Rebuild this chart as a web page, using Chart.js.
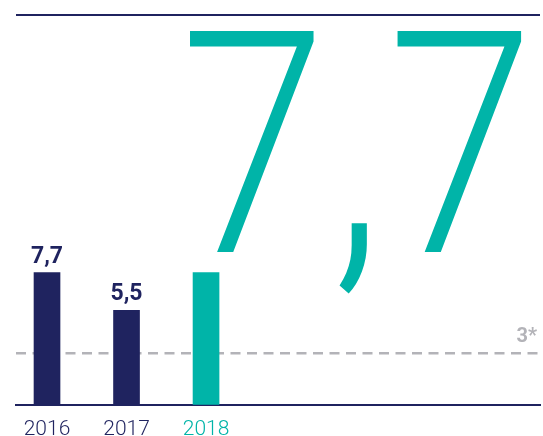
<!DOCTYPE html>
<html>
<head>
<meta charset="utf-8">
<script src="https://cdn.jsdelivr.net/npm/chart.js@4"></script>
<style>
  html, body { margin: 0; padding: 0; background: #fff; }
  #wrap { width: 543px; height: 436px; position: relative; }
</style>
</head>
<body>
<div id="wrap"><canvas id="rateChart"></canvas></div>
<script>
// data
const years = [2016, 2017, 2018];
const values = [7.7, 5.5, 7.7];
const threshold = 3;
const thresholdLabel = '3*';

const navy = '#1f235f';
const teal = '#00b4a8';
const grey = '#b3b3b8';

const fmt = v => v.toFixed(1).replace('.', ',');

// rules, reference line, value labels and the big headline number
const decorPlugin = {
    id: 'decor',
    beforeDatasetsDraw(chart) {
        const { ctx, chartArea, scales } = chart;
        const y = scales.y.getPixelForValue(threshold);
        ctx.save();
        ctx.strokeStyle = grey;
        ctx.lineWidth = 2.5;
        ctx.setLineDash([10, 6.5]);
        ctx.beginPath();
        ctx.moveTo(chartArea.left, y);
        ctx.lineTo(chartArea.right, y);
        ctx.stroke();
        ctx.setLineDash([]);
        ctx.fillStyle = grey;
        ctx.font = 'bold 20px Roboto';
        ctx.textAlign = 'right';
        ctx.textBaseline = 'alphabetic';
        ctx.fillText(thresholdLabel, chartArea.right - 3, y - 11);
        // top rule
        ctx.strokeStyle = navy;
        ctx.lineWidth = 2;
        ctx.beginPath();
        ctx.moveTo(chartArea.left, chartArea.top);
        ctx.lineTo(chartArea.right, chartArea.top);
        ctx.stroke();
        ctx.restore();
    },
    afterDatasetsDraw(chart) {
        const { ctx } = chart;
        const bars = chart.getDatasetMeta(0).data;
        ctx.save();
        ctx.fillStyle = navy;
        ctx.font = 'bold 23px Roboto';
        ctx.textAlign = 'center';
        ctx.textBaseline = 'alphabetic';
        // last year is shown as the big number instead
        for (let i = 0; i < bars.length - 1; i++) {
            ctx.fillText(fmt(values[i]), bars[i].x, bars[i].y - 10);
        }
        // big number
        ctx.fillStyle = teal;
        ctx.font = '300 311px Roboto';
        ctx.textAlign = 'left';
        ctx.letterSpacing = '6px';
        ctx.translate(180, 252);
        ctx.scale(0.85, 1);
        ctx.fillText(fmt(values[values.length - 1]), 0, 0);
        ctx.restore();
    }
};

const ctx1 = document.getElementById('rateChart').getContext('2d');
const rateChart = new Chart(ctx1, {
    type: 'bar',
    data: {
        datasets: [{
            label: 'Rate',
            data: years.map((y, i) => ({ x: y, y: values[i] })),
            backgroundColor: years.map((y, i) => i === years.length - 1 ? teal : navy),
            barThickness: 26,
            borderWidth: 0
        }]
    },
    options: {
        responsive: true,
        maintainAspectRatio: false,
        animation: false,
        layout: { padding: { top: 15, left: 16, right: 3, bottom: -18 } },
        plugins: {
            legend: { display: false },
            tooltip: { enabled: false }
        },
        scales: {
            x: {
                type: 'linear',
                offset: false,
                min: 2015.61,
                max: 2022.2,
                afterBuildTicks: (scale) => {
                    scale.ticks = years.map(v => ({ value: v }));
                },
                grid: { display: false, drawTicks: false, offset: false },
                border: { display: true, color: navy, width: 2 },
                ticks: {
                    autoSkip: false,
                    maxRotation: 0,
                    padding: 12,
                    font: { family: 'Roboto', size: 21, weight: '300' },
                    color: (c) => c.index === years.length - 1 ? teal : navy,
                    callback: (v) => String(v)
                }
            },
            y: {
                display: false,
                min: 0,
                max: 22.7
            }
        }
    },
    plugins: [decorPlugin]
});
</script>
</body>
</html>
